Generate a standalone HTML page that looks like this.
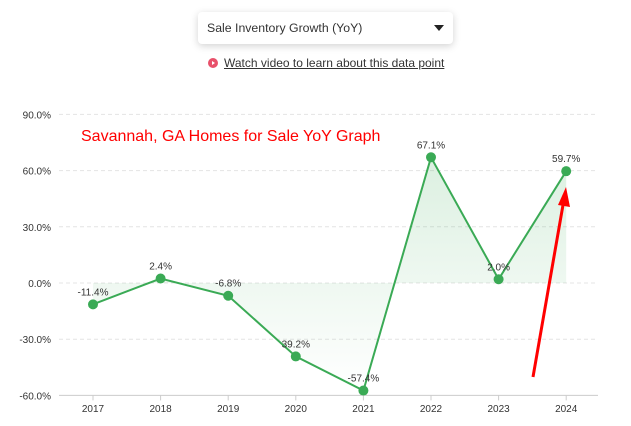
<!DOCTYPE html>
<html><head><meta charset="utf-8"><style>
body{margin:0;width:631px;height:426px;background:#fff;font-family:"Liberation Sans",sans-serif;overflow:hidden;position:relative}
.dd{position:absolute;left:198px;top:12px;width:255px;height:32px;border-radius:4px;box-shadow:0 2px 8px rgba(0,0,0,.18);background:#fff}
.dd span{position:absolute;left:9px;top:9px;font-size:12.3px;color:#333}
.dd i{position:absolute;right:9px;top:13px;border-left:5px solid transparent;border-right:5px solid transparent;border-top:6px solid #222}
.link{position:absolute;left:208px;top:56px;font-size:12px;color:#333;text-decoration:underline}
.link b{display:inline-block;width:10px;height:10px;border-radius:50%;background:#e8506a;margin-right:6px;vertical-align:-1px;position:relative}
.link b:after{content:"";position:absolute;left:4px;top:2.5px;border-top:2.5px solid transparent;border-bottom:2.5px solid transparent;border-left:3.5px solid #fff}
</style></head><body>
<div class="dd"><span>Sale Inventory Growth (YoY)</span><i></i></div>
<div class="link"><b></b>Watch video to learn about this data point</div>
<svg id="c" width="631" height="426" style="position:absolute;left:0;top:0"></svg>
<script>
const years=["2017","2018","2019","2020","2021","2022","2023","2024"];
const values=[-11.4,2.4,-6.8,-39.2,-57.4,67.1,2.0,59.7];
const labels=["-11.4%","2.4%","-6.8%","39.2%","-57.4%","67.1%","2.0%","59.7%"];
const yTicks=[90,60,30,0,-30,-60];
const yTickLabels=["90.0%","60.0%","30.0%","0.0%","-30.0%","-60.0%"];
const NS="http://www.w3.org/2000/svg",svg=document.getElementById('c');
const x=i=>93+i*67.6, y=v=>283-v*(168.6/90);
function el(t,a,p){const e=document.createElementNS(NS,t);for(const k in a)e.setAttribute(k,a[k]);(p||svg).appendChild(e);return e;}
const defs=el('defs',{});const g=el('linearGradient',{id:'gr',x1:0,y1:0,x2:0,y2:1},defs);
el('stop',{offset:0,'stop-color':'#3aaa55','stop-opacity':.18},g);el('stop',{offset:1,'stop-color':'#3aaa55','stop-opacity':0},g);
yTicks.forEach((t,i)=>{const l=el('line',{x1:59,x2:598,y1:y(t),y2:y(t),stroke:i==yTicks.length-1?'#ccc':'#e4e4e4','stroke-dasharray':i==yTicks.length-1?'':'4 3'});

const tx=el('text',{x:51,y:y(t)+4,'text-anchor':'end','font-size':10,fill:'#333'});tx.textContent=yTickLabels[i];
});
years.forEach((yr,i)=>{const tx=el('text',{x:x(i),y:412,'text-anchor':'middle','font-size':10,fill:'#333'});tx.textContent=yr;

el('line',{x1:x(i),x2:x(i),y1:y(-60),y2:y(-60)+5,stroke:'#ccc'});});
let pts=values.map((v,i)=>x(i)+','+y(v)).join(' ');
const area=el('polygon',{points:x(0)+','+y(0)+' '+pts+' '+x(values.length-1)+','+y(0),fill:'url(#gr)'});

const line=el('polyline',{points:pts,fill:'none',stroke:'#3aaa55','stroke-width':2});

values.forEach((v,i)=>{const c=el('circle',{cx:x(i),cy:y(v),r:5,fill:'#3aaa55'});

const tx=el('text',{x:x(i),y:y(v)-9,'text-anchor':'middle','font-size':10,fill:'#333'});tx.textContent=labels[i];
});
const t=el('text',{x:81,y:141,'font-size':16,fill:'#ff0000'});t.textContent='Savannah, GA Homes for Sale YoY Graph';

const a=el('line',{x1:533,y1:377,x2:563,y2:205,stroke:'#ff0000','stroke-width':3});

el('polygon',{points:'566,187 558,205 570,207',fill:'#ff0000'});
</script>
</body></html>
